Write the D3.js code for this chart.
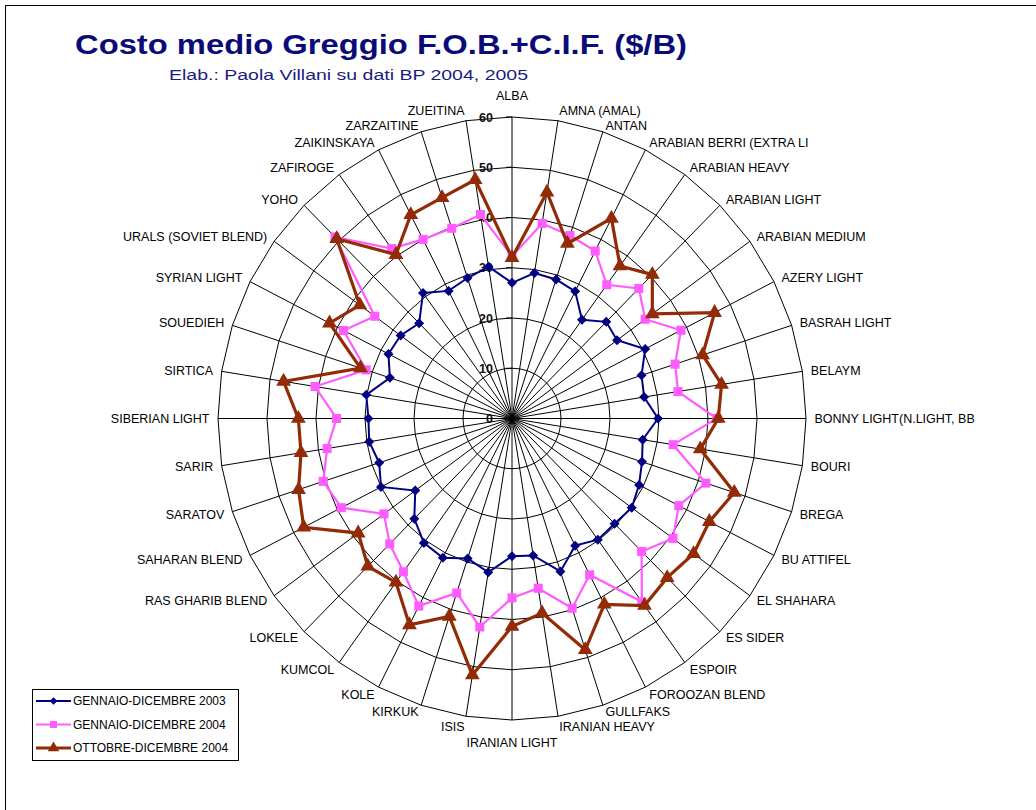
<!DOCTYPE html>
<html>
<head>
<meta charset="utf-8">
<script src="https://cdn.jsdelivr.net/npm/d3@7"></script>
<style>
  html, body { margin: 0; padding: 0; background: #fff; }
  svg { display: block; font-family: Arial, "Liberation Sans", sans-serif; }
</style>
</head>
<body>
<svg id="chart" width="1036" height="810"></svg>
<script>
// Crude oil grades (radar axes, clockwise from the top)
const categories = [
  "ALBA", "AMNA (AMAL)", "ANTAN", "ARABIAN BERRI (EXTRA LI", "ARABIAN HEAVY",
  "ARABIAN LIGHT", "ARABIAN MEDIUM", "AZERY LIGHT", "BASRAH LIGHT", "BELAYM",
  "BONNY LIGHT(N.LIGHT, BB", "BOURI", "BREGA", "BU ATTIFEL", "EL SHAHARA",
  "ES SIDER", "ESPOIR", "FOROOZAN BLEND", "GULLFAKS", "IRANIAN HEAVY",
  "IRANIAN LIGHT", "ISIS", "KIRKUK", "KOLE", "KUMCOL",
  "LOKELE", "RAS GHARIB BLEND", "SAHARAN BLEND", "SARATOV", "SARIR",
  "SIBERIAN LIGHT", "SIRTICA", "SOUEDIEH", "SYRIAN LIGHT", "URALS (SOVIET BLEND)",
  "YOHO", "ZAFIROGE", "ZAIKINSKAYA", "ZARZAITINE", "ZUEITINA"
];

// Average cost, $/barrel
const gennDic2003 = [
  27.0, 29.3, 29.1, 28.4, 24.3, 27.2, 26.5, 30.5, 27.8, 27.3,
  29.8, 27.0, 27.9, 29.1, 30.2, 29.6, 29.8, 28.4, 32.0, 27.6,
  27.4, 31.0, 29.3, 31.1, 30.6, 28.2, 24.4, 30.0, 28.5, 29.5,
  29.3, 30.1, 26.2, 28.3, 28.1, 26.8, 30.9, 28.5, 29.4, 30.6
];
const gennDic2004 = [
  32.3, 39.3, 38.3, 37.4, 32.9, 36.6, 33.6, 38.7, 35.0, 34.3,
  41.8, 33.3, 41.6, 38.2, 40.6, 37.4, 45.1, 34.9, 39.7, 34.2,
  35.7, 42.0, 36.5, 41.9, 37.7, 35.3, 32.3, 39.1, 40.5, 38.2,
  35.8, 40.7, 31.3, 38.6, 34.6, 51.1, 41.8, 40.0, 39.8, 41.1
];
const ottDic2004 = [
  32.0, 45.6, 36.6, 44.7, 37.5, 40.5, 35.4, 46.4, 40.9, 43.3,
  42.1, 38.9, 47.7, 45.2, 45.8, 44.8, 46.0, 41.5, 48.4, 39.2,
  41.4, 51.7, 41.4, 46.1, 40.3, 41.6, 38.8, 47.7, 45.8, 43.6,
  43.6, 47.2, 32.5, 41.8, 38.4, 50.6, 40.3, 45.5, 46.2, 48.1
];

const seriesNames = ["GENNAIO-DICEMBRE 2003", "GENNAIO-DICEMBRE 2004", "OTTOBRE-DICEMBRE 2004"];
const radialTicks = [0, 10, 20, 30, 40, 50, 60];

const titleText = "Costo medio Greggio F.O.B.+C.I.F. ($/B)";
const subtitleText = "Elab.: Paola Villani su dati BP 2004, 2005";

// ---- layout -------------------------------------------------------------
const svg = d3.select("#chart");
const cx = 512, cy = 418.5;   // plot centre
const rx = 294, ry = 301.5;   // plot radius, horizontal / vertical

const xr = d3.scaleLinear().domain([0, 60]).range([0, rx]);
const yr = d3.scaleLinear().domain([0, 60]).range([0, ry]);
const angle = d3.scaleLinear().domain([0, categories.length]).range([0, 2 * Math.PI]);

function pt(i, v) {
  const a = angle(i);
  return [cx + xr(v) * Math.sin(a), cy - yr(v) * Math.cos(a)];
}

// frame
svg.append("line").attr("x1", 5).attr("y1", 5.5).attr("x2", 1036).attr("y2", 5.5)
  .attr("stroke", "#000").attr("stroke-width", 1);
svg.append("line").attr("x1", 5.5).attr("y1", 5).attr("x2", 5.5).attr("y2", 810)
  .attr("stroke", "#000").attr("stroke-width", 1);

// titles
svg.append("text")
  .attr("x", 75).attr("y", 54)
  .attr("textLength", 612).attr("lengthAdjust", "spacingAndGlyphs")
  .attr("font-size", 27).attr("font-weight", "bold").attr("fill", "#0a0a78")
  .text(titleText);
svg.append("text")
  .attr("x", 169).attr("y", 79.5)
  .attr("textLength", 359).attr("lengthAdjust", "spacingAndGlyphs")
  .attr("font-size", 14).attr("fill", "#1c1c80")
  .text(subtitleText);

// ---- grid ---------------------------------------------------------------
const grid = svg.append("g").attr("fill", "none").attr("stroke", "#000").attr("stroke-width", 1);
const idx = d3.range(categories.length);

grid.selectAll("path.ring")
  .data(radialTicks.filter(t => t > 0))
  .join("path")
  .attr("class", "ring")
  .attr("d", t => d3.line()(idx.map(i => pt(i, t))) + "Z");

grid.selectAll("line.spoke")
  .data(idx)
  .join("line")
  .attr("class", "spoke")
  .attr("x1", cx).attr("y1", cy)
  .attr("x2", i => pt(i, 60)[0]).attr("y2", i => pt(i, 60)[1]);

// radial value axis along the first spoke
const tickG = svg.append("g");
tickG.selectAll("line")
  .data(radialTicks)
  .join("line")
  .attr("x1", cx - 6).attr("x2", cx)
  .attr("y1", t => cy - yr(t)).attr("y2", t => cy - yr(t))
  .attr("stroke", "#000");
tickG.selectAll("text")
  .data(radialTicks)
  .join("text")
  .attr("x", cx - 19)
  .attr("y", t => cy - yr(t))
  .attr("dy", "0.36em")
  .attr("text-anchor", "end")
  .attr("font-size", 12.5).attr("font-weight", "bold").attr("fill", "#111")
  .text(d => d);

// category labels: placed just outside the outer ring, nudged apart where
// neighbouring labels near the vertical axis would collide
svg.append("g").selectAll("text")
  .data(idx)
  .join("text")
  .each(function (i) {
    const a = angle(i);
    const s = Math.sin(a), c = Math.cos(a);
    const [px, py] = pt(i, 60);
    const vertical = Math.abs(s) < 1e-6;
    const off = vertical ? 22 : 8.5;
    let extra = 0;
    if (!vertical && Math.abs(c) > 0.97) extra = 2 * Math.sign(c);
    else if (Math.abs(c) > 0.9 && Math.abs(c) <= 0.97) extra = -1.5 * Math.sign(c);
    d3.select(this)
      .attr("x", px + off * s)
      .attr("y", py - off * c - extra)
      .attr("dy", "0.36em")
      .attr("text-anchor", vertical ? "middle" : (s > 0 ? "start" : "end"));
  })
  .attr("font-size", 12.5).attr("fill", "#000")
  .text(i => categories[i]);

// ---- series -------------------------------------------------------------
const diamond = {
  draw(ctx, size) {
    const r = Math.sqrt(size) / 2;
    ctx.moveTo(0, -r); ctx.lineTo(r, 0); ctx.lineTo(0, r); ctx.lineTo(-r, 0); ctx.closePath();
  }
};

const series = [
  { name: seriesNames[0], values: gennDic2003, color: "#000080", width: 2, symbol: diamond, size: 100 },
  { name: seriesNames[1], values: gennDic2004, color: "#ff5cff", width: 2.2, symbol: d3.symbolSquare, size: 81 },
  { name: seriesNames[2], values: ottDic2004, color: "#922b06", width: 3.2, symbol: d3.symbolTriangle, size: 95 }
];

const line = d3.line();
series.forEach(sr => {
  const g = svg.append("g");
  const pts = sr.values.map((v, i) => pt(i, v));
  g.append("path")
    .attr("d", line(pts) + "Z")
    .attr("fill", "none")
    .attr("stroke", sr.color)
    .attr("stroke-width", sr.width)
    .attr("stroke-linejoin", "miter");
  g.selectAll("path.mk")
    .data(pts)
    .join("path")
    .attr("class", "mk")
    .attr("transform", d => `translate(${d[0]},${d[1]})`)
    .attr("d", d3.symbol(sr.symbol, sr.size))
    .attr("fill", sr.color);
});

// ---- legend -------------------------------------------------------------
const lg = svg.append("g");
lg.append("rect")
  .attr("x", 32.5).attr("y", 689.5).attr("width", 206).attr("height", 71)
  .attr("fill", "#fff").attr("stroke", "#000");
const legendY = d3.scalePoint().domain(seriesNames).range([701, 748]);
series.forEach(sr => {
  const y = legendY(sr.name);
  lg.append("line").attr("x1", 36).attr("x2", 71).attr("y1", y).attr("y2", y)
    .attr("stroke", sr.color).attr("stroke-width", sr.width);
  lg.append("path")
    .attr("transform", `translate(53.5,${y})`)
    .attr("d", d3.symbol(sr.symbol, sr.size * 0.6))
    .attr("fill", sr.color);
  lg.append("text")
    .attr("x", 73).attr("y", y).attr("dy", "0.36em")
    .attr("font-size", 12).attr("fill", "#000")
    .text(sr.name);
});
</script>
</body>
</html>
